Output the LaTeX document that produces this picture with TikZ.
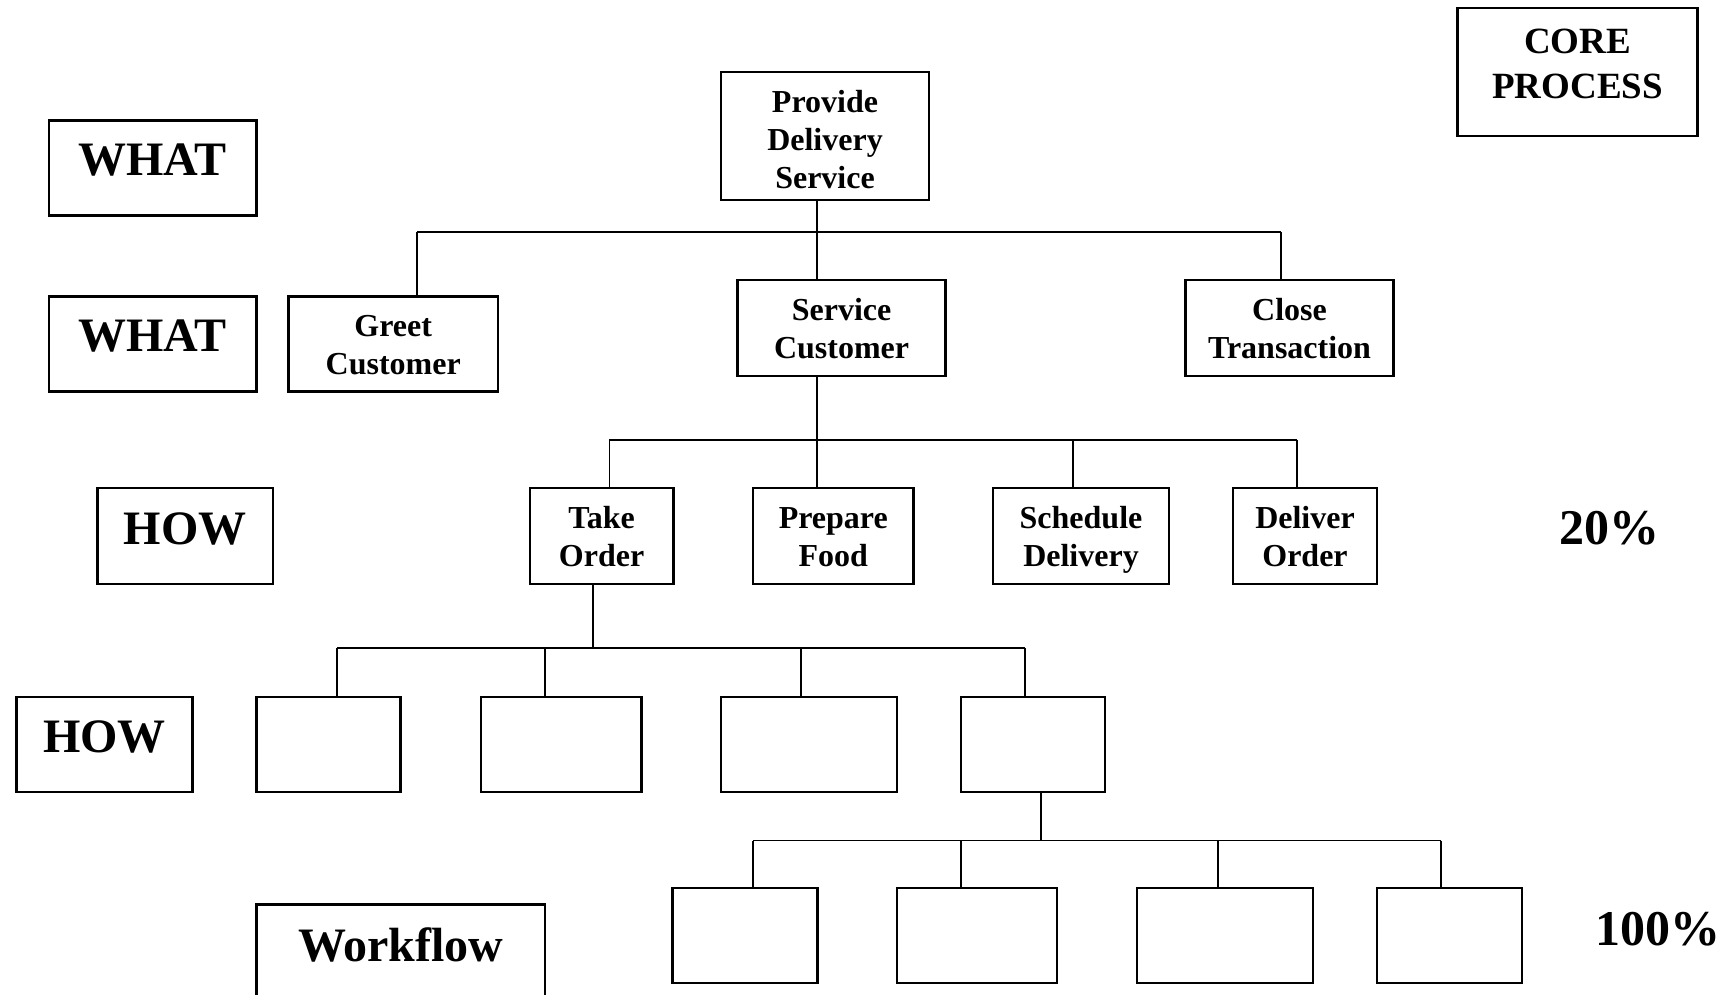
\documentclass[tikz,border=0pt]{standalone}
\usepackage{fontspec}
\setmainfont{Liberation Serif}
\begin{document}
\begin{tikzpicture}[x=1pt,y=-1pt,
  frame/.style={draw=black, line width=2.4pt, inner sep=0pt, outer sep=0pt},
  task/.style={frame, align=center, text height=61pt, text depth=0pt,
    font=\fontsize{32}{37.7}\selectfont\bfseries},
  tall task/.style={task, text height=104.6pt},
  biglbl/.style={inner sep=0pt, font=\fontsize{48}{54}\selectfont\bfseries},
  pctlbl/.style={inner sep=0pt, font=\fontsize{50}{56}\selectfont\bfseries},
  link/.style={draw=black, line width=1.8pt}]
\useasboundingbox (0,0) rectangle (1734,995);

% ---- level labels on the left and top right ----
\node[frame, minimum width=240, minimum height=128.3] (core) at (1577.6,71.9) {};
\node[inner sep=0pt, align=center, font=\fontsize{37}{44.5}\selectfont\bfseries] (core-t) at (1577.6,63.8) {CORE\\PROCESS};

\node[frame, minimum width=207.9, minimum height=95.1] (what1) at (152.7,168) {};
\node[biglbl] (what1-t) at (152.7,160) {WHAT};
\node[frame, minimum width=207.9, minimum height=95.1] (what2) at (152.7,344) {};
\node[biglbl] (what2-t) at (152.7,336) {WHAT};
\node[frame, minimum width=175.9, minimum height=96.2] (how1) at (185.3,535.8) {};
\node[biglbl] (how1-t) at (185.3,528.6) {HOW};
\node[frame, minimum width=175.8, minimum height=95.1] (how2) at (104.5,744.3) {};
\node[biglbl] (how2-t) at (104.5,736.5) {HOW};

% workflow frame runs past the lower edge
\begin{scope}
  \clip (0,0) rectangle (1734,995);
  \draw[line width=2.4pt] (256.6,1010) -- (256.6,904.6) -- (545.2,904.6) -- (545.2,1010);
\end{scope}
\node[biglbl] (workflow-t) at (400.9,945) {Workflow};

\node[pctlbl] (pct20) at (1609,528.6) {20\%};
\node[pctlbl] (pct100) at (1657.5,929) {100\%};

% ---- process hierarchy ----
\node[tall task, minimum width=208, minimum height=128.3] (provide) at (825,136) {Provide\\Delivery\\Service};

\node[task, minimum width=209.1, minimum height=95.1] (greet) at (393.2,344) {Greet\\Customer};
\node[task, minimum width=207.9, minimum height=96.2] (service) at (841.6,327.9) {Service\\Customer};
\node[task, minimum width=207.9, minimum height=96.2] (close) at (1289.5,327.9) {Close\\Transaction};

\node[task, minimum width=143.8, minimum height=96.2] (take) at (601.6,535.8) {Take\\Order};
\node[task, minimum width=160.4, minimum height=96.2] (prepare) at (833.3,535.8) {Prepare\\Food};
\node[task, minimum width=175.8, minimum height=96.2] (schedule) at (1081,535.8) {Schedule\\Delivery};
\node[task, minimum width=143.7, minimum height=96.2] (deliver) at (1305,535.8) {Deliver\\Order};

\node[frame, minimum width=143.7, minimum height=95.1] (h1) at (328.5,744.3) {};
\node[frame, minimum width=160.3, minimum height=95.1] (h2) at (561.3,744.3) {};
\node[frame, minimum width=175.9, minimum height=95.1] (h3) at (809,744.3) {};
\node[frame, minimum width=143.8, minimum height=95.1] (h4) at (1032.9,744.3) {};

\node[frame, minimum width=144.9, minimum height=95.1] (w1) at (744.9,935.6) {};
\node[frame, minimum width=160.3, minimum height=95.1] (w2) at (977.1,935.6) {};
\node[frame, minimum width=175.8, minimum height=95.1] (w3) at (1224.8,935.6) {};
\node[frame, minimum width=144.9, minimum height=95.1] (w4) at (1449.3,935.6) {};

% ---- connectors: trunk, bus and drops per level ----
\coordinate (j1) at (817.3,232.2);
\coordinate (a1) at (416.9,232.2);
\coordinate (c1) at (1280.6,232.2);
\draw[link] (j1 |- provide.south) -- (j1);
\draw[link] (a1) -- (c1);
\draw[link] (a1) -- (a1 |- greet.north);
\draw[link] (j1) -- (j1 |- service.north);
\draw[link] (c1) -- (c1 |- close.north);

\coordinate (j2) at (817.3,440.1);
\coordinate (a2) at (609.4,440.1);
\coordinate (c2) at (1072.7,440.1);
\coordinate (d2) at (1297.2,440.1);
\draw[link] (j2 |- service.south) -- (j2);
\draw[link] (a2) -- (d2);
\draw[link] (a2) -- (a2 |- take.north);
\draw[link] (j2) -- (j2 |- prepare.north);
\draw[link] (c2) -- (c2 |- schedule.north);
\draw[link] (d2) -- (d2 |- deliver.north);

\coordinate (j3) at (592.8,648);
\coordinate (a3) at (337.3,648);
\coordinate (b3) at (545.2,648);
\coordinate (c3) at (800.7,648);
\coordinate (d3) at (1025.2,648);
\draw[link] (j3 |- take.south) -- (j3);
\draw[link] (a3) -- (d3);
\draw[link] (a3) -- (a3 |- h1.north);
\draw[link] (b3) -- (b3 |- h2.north);
\draw[link] (c3) -- (c3 |- h3.north);
\draw[link] (d3) -- (d3 |- h4.north);

\coordinate (j4) at (1040.6,840.5);
\coordinate (a4) at (753.1,840.5);
\coordinate (b4) at (961,840.5);
\coordinate (c4) at (1217.6,840.5);
\coordinate (d4) at (1441,840.5);
\draw[link] (j4 |- h4.south) -- (j4);
\draw[link] (a4) -- (d4);
\draw[link] (a4) -- (a4 |- w1.north);
\draw[link] (b4) -- (b4 |- w2.north);
\draw[link] (c4) -- (c4 |- w3.north);
\draw[link] (d4) -- (d4 |- w4.north);
\end{tikzpicture}
\end{document}
